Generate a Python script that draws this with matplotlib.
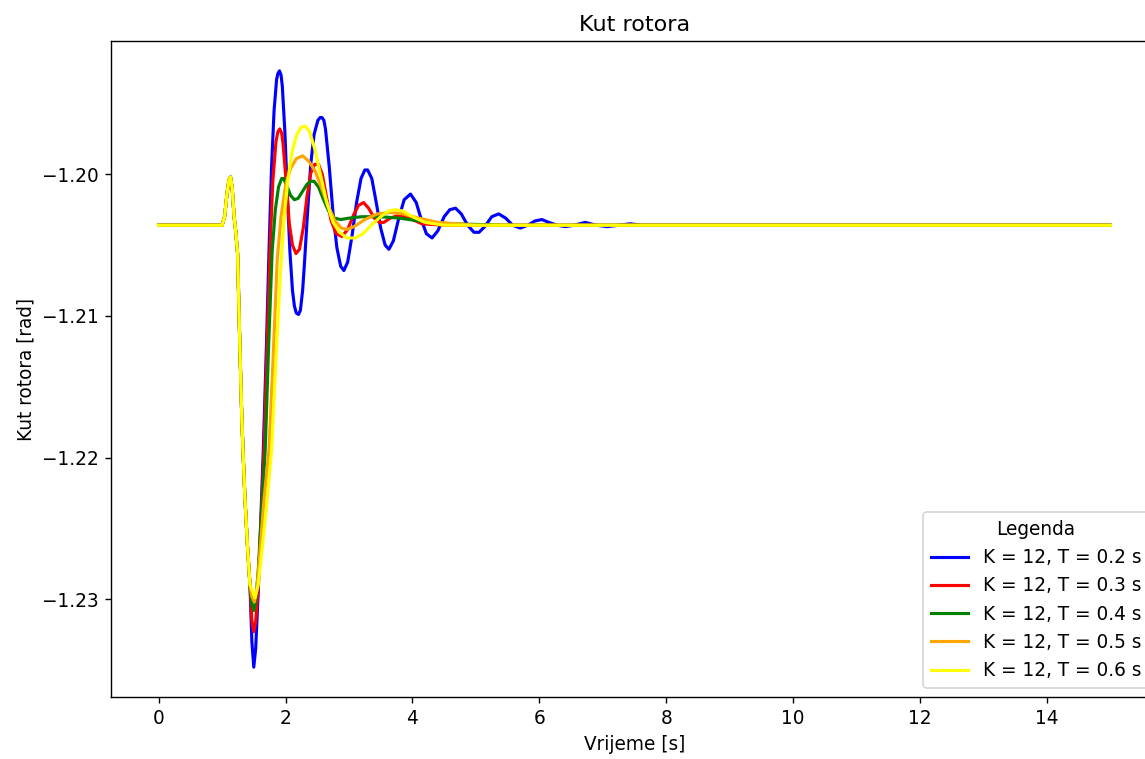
import numpy as np
import matplotlib
matplotlib.use("Agg")
import matplotlib.pyplot as plt

# Shared part of all responses (before the curves separate)
t_common = [0.0, 1.00, 1.04, 1.08, 1.11, 1.134, 1.16, 1.19, 1.215, 1.245, 1.28, 1.31, 1.33, 1.36, 1.40, 1.44]
v_common = [-1.2036, -1.2036, -1.2030, -1.2013, -1.2004, -1.2002, -1.2010, -1.2030, -1.2040, -1.2056,
            -1.2120, -1.2170, -1.2195, -1.2228, -1.2262, -1.2290]

t_k12_t02 = [1.47, 1.50, 1.53, 1.57, 1.61, 1.65, 1.70, 1.74, 1.78, 1.82, 1.86, 1.88, 1.905, 1.93, 1.95,
             1.99, 2.03, 2.07, 2.11, 2.14, 2.17, 2.205, 2.235, 2.27, 2.30, 2.35, 2.40, 2.45, 2.51, 2.545,
             2.575, 2.605, 2.63, 2.69, 2.75, 2.81, 2.87, 2.92, 2.98, 3.05, 3.12, 3.19, 3.25, 3.295, 3.36,
             3.43, 3.50, 3.57, 3.63, 3.70, 3.78, 3.87, 3.97, 4.06, 4.14, 4.22, 4.31, 4.40, 4.50, 4.59,
             4.68, 4.77, 4.87, 4.97, 5.05, 5.14, 5.25, 5.36, 5.47, 5.58, 5.70, 5.82, 5.93, 6.04, 6.15,
             6.28, 6.41, 6.55, 6.72, 6.90, 7.07, 7.25, 7.43, 7.62, 7.80, 15.0]
v_k12_t02 = [-1.2330, -1.2348, -1.2335, -1.2295, -1.2245, -1.2195, -1.2120, -1.2054, -1.1995, -1.1955,
             -1.1933, -1.1929, -1.1927, -1.1930, -1.1938, -1.1970, -1.2015, -1.2055, -1.2082, -1.2093,
             -1.2098, -1.2099, -1.2096, -1.2082, -1.2062, -1.2025, -1.1992, -1.1972, -1.1962, -1.1960,
             -1.1960, -1.1962, -1.1968, -1.1995, -1.2028, -1.2052, -1.2065, -1.2068, -1.2062, -1.2043,
             -1.2020, -1.2003, -1.1997, -1.1997, -1.2003, -1.2020, -1.2038, -1.2050, -1.2053, -1.2047,
             -1.2032, -1.2018, -1.2014, -1.2020, -1.2032, -1.2042, -1.2045, -1.2040, -1.2030, -1.2025,
             -1.2024, -1.2028, -1.2036, -1.2041, -1.2041, -1.2037, -1.2030, -1.2028, -1.2031, -1.2036,
             -1.2038, -1.2036, -1.2033, -1.2032, -1.2034, -1.2036, -1.2037, -1.2036, -1.2034, -1.2036,
             -1.2037, -1.2036, -1.2035, -1.2036, -1.2036, -1.2036]

t_k12_t03 = [1.47, 1.50, 1.53, 1.57, 1.61, 1.66, 1.71, 1.755, 1.80, 1.85, 1.88, 1.91, 1.94, 1.96, 2.01,
             2.06, 2.11, 2.165, 2.22, 2.28, 2.34, 2.40, 2.46, 2.52, 2.58, 2.65, 2.72, 2.80, 2.89, 2.98,
             3.07, 3.15, 3.23, 3.31, 3.40, 3.48, 3.55, 3.65, 3.78, 3.95, 4.15, 4.50, 15.0]
v_k12_t03 = [-1.2315, -1.2323, -1.2316, -1.2292, -1.2250, -1.2195, -1.2120, -1.2054, -1.2005, -1.1977,
             -1.1970, -1.1968, -1.1971, -1.1978, -1.2005, -1.2035, -1.2050, -1.2056, -1.2053, -1.2038,
             -1.2015, -1.1999, -1.1993, -1.1993, -1.2000, -1.2017, -1.2033, -1.2042, -1.2044, -1.2039,
             -1.2029, -1.2022, -1.2020, -1.2024, -1.2031, -1.2034, -1.2034, -1.2031, -1.2029, -1.2031,
             -1.2035, -1.2036, -1.2036]

t_k12_t04 = [1.47, 1.50, 1.53, 1.57, 1.62, 1.68, 1.735, 1.79, 1.84, 1.89, 1.94, 1.97, 2.02, 2.08, 2.14,
             2.20, 2.27, 2.34, 2.40, 2.45, 2.52, 2.60, 2.68, 2.77, 2.87, 3.00, 3.20, 3.50, 3.80, 4.10,
             4.60, 5.50, 15.0]
v_k12_t04 = [-1.2303, -1.2308, -1.2302, -1.2280, -1.2240, -1.2195, -1.2120, -1.2054, -1.2025, -1.2009,
             -1.2003, -1.2003, -1.2008, -1.2015, -1.2018, -1.2017, -1.2012, -1.2007, -1.2005, -1.2005,
             -1.2009, -1.2018, -1.2026, -1.2031, -1.2032, -1.2031, -1.2030, -1.2030, -1.2031, -1.2033,
             -1.2035, -1.2036, -1.2036]

t_k12_t05 = [1.47, 1.51, 1.55, 1.60, 1.66, 1.74, 1.80, 1.87, 1.93, 2.00, 2.08, 2.17, 2.27, 2.37, 2.47,
             2.57, 2.67, 2.78, 2.88, 2.97, 3.08, 3.25, 3.45, 3.65, 3.85, 4.10, 4.40, 5.00, 15.0]
v_k12_t05 = [-1.2298, -1.2302, -1.2292, -1.2265, -1.2230, -1.2195, -1.2135, -1.2060, -1.2030, -1.2008,
             -1.1996, -1.1989, -1.1987, -1.1991, -1.1998, -1.2010, -1.2022, -1.2033, -1.2038, -1.2039,
             -1.2037, -1.2032, -1.2028, -1.2027, -1.2028, -1.2031, -1.2034, -1.2036, -1.2036]

t_k12_t06 = [1.47, 1.52, 1.57, 1.63, 1.70, 1.78, 1.85, 1.92, 1.98, 2.04, 2.10, 2.17, 2.24, 2.31, 2.38,
             2.46, 2.55, 2.65, 2.75, 2.85, 2.97, 3.10, 3.22, 3.35, 3.50, 3.62, 3.73, 3.85, 4.00, 4.20,
             4.50, 15.0]
v_k12_t06 = [-1.2293, -1.2299, -1.2290, -1.2265, -1.2235, -1.2195, -1.2130, -1.2070, -1.2030, -1.2003,
             -1.1985, -1.1973, -1.1967, -1.1966, -1.1970, -1.1982, -1.2000, -1.2020, -1.2034, -1.2041,
             -1.2045, -1.2045, -1.2042, -1.2036, -1.2030, -1.2026, -1.2025, -1.2026, -1.2030, -1.2034,
             -1.2036, -1.2036]

labels = ["K = 12, T = 0.2 s", "K = 12, T = 0.3 s", "K = 12, T = 0.4 s",
          "K = 12, T = 0.5 s", "K = 12, T = 0.6 s"]
colors = ["blue", "red", "green", "orange", "yellow"]
series_t = [t_k12_t02, t_k12_t03, t_k12_t04, t_k12_t05, t_k12_t06]
series_v = [v_k12_t02, v_k12_t03, v_k12_t04, v_k12_t05, v_k12_t06]

plt.rcParams["font.size"] = 10.7

fig = plt.figure(figsize=(9.16, 6.072), dpi=125)
ax = fig.add_axes([111 / 1145, 62 / 759, 1047 / 1145, 656 / 759])

for tt, vv, lab, col in zip(series_t, series_v, labels, colors):
    t = np.concatenate([t_common, tt])
    v = np.concatenate([v_common, vv])
    ax.plot(t, v, color=col, label=lab, linewidth=1.8)

ax.set_title("Kut rotora")
ax.set_xlabel("Vrijeme [s]")
ax.set_ylabel("Kut rotora [rad]")
ax.set_xticks([0, 2, 4, 6, 8, 10, 12, 14])
ax.legend(title="Legenda", loc="lower right")

fig.savefig("out.png", dpi=125)
